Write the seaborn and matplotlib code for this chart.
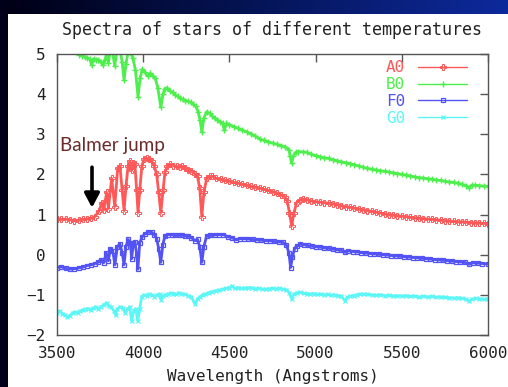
import numpy as np
import pandas as pd
import matplotlib
matplotlib.use("Agg")
import matplotlib.pyplot as plt
from matplotlib.colors import LinearSegmentedColormap
from matplotlib.patches import Rectangle
import seaborn as sns

# ---------------- data: relative flux (log, offset) vs wavelength in Angstroms -----------
wl_a0 = [3500, 3525, 3550, 3575, 3600, 3625, 3650, 3675, 3700, 3720, 3745, 3760, 3771,
         3788, 3798, 3817, 3835, 3852, 3865, 3878, 3889, 3900, 3912, 3923, 3933, 3943,
         3952, 3962, 3970, 3980, 3992, 4005, 4020, 4035, 4049, 4065, 4078, 4090, 4102,
         4115, 4126, 4140, 4155, 4175, 4195, 4215, 4225, 4240, 4260, 4280, 4300, 4315,
         4328, 4340, 4352, 4368, 4385, 4400, 4425, 4450, 4475, 4500, 4525, 4550, 4575,
         4600, 4625, 4650, 4675, 4700, 4725, 4750, 4775, 4800, 4820, 4835, 4848, 4861,
         4875, 4890, 4910, 4927, 4950, 4975, 5000, 5025, 5050, 5075, 5100, 5125, 5150,
         5175, 5200, 5225, 5250, 5275, 5300, 5325, 5350, 5375, 5400, 5425, 5450, 5475,
         5500, 5525, 5550, 5575, 5600, 5625, 5650, 5675, 5700, 5725, 5750, 5775, 5800,
         5825, 5850, 5875, 5900, 5925, 5950, 5975, 6000]
flux_a0 = [0.90, 0.88, 0.89, 0.87, 0.85, 0.86, 0.88, 0.89, 0.91, 0.95, 1.10, 1.30, 1.12,
           1.55, 1.15, 1.90, 1.20, 2.15, 2.22, 1.60, 1.10, 1.70, 2.20, 2.33, 2.10, 2.28,
           2.25, 1.60, 1.05, 1.60, 2.20, 2.38, 2.40, 2.38, 2.33, 2.20, 2.00, 1.55, 1.05,
           1.60, 2.05, 2.20, 2.25, 2.22, 2.20, 2.18, 2.20, 2.15, 2.12, 2.08, 2.02, 1.95,
           1.65, 0.95, 1.55, 1.90, 1.95, 1.95, 1.90, 1.88, 1.85, 1.83, 1.80, 1.78, 1.75,
           1.73, 1.70, 1.68, 1.66, 1.63, 1.60, 1.57, 1.53, 1.49, 1.45, 1.35, 1.05, 0.72,
           1.05, 1.30, 1.36, 1.38, 1.37, 1.34, 1.32, 1.31, 1.30, 1.28, 1.27, 1.25, 1.22,
           1.20, 1.18, 1.16, 1.14, 1.12, 1.10, 1.08, 1.06, 1.04, 1.02, 1.00, 0.99, 0.97,
           0.96, 0.95, 0.93, 0.92, 0.91, 0.90, 0.89, 0.88, 0.87, 0.86, 0.85, 0.84, 0.83,
           0.82, 0.82, 0.81, 0.80, 0.79, 0.79, 0.78, 0.77]

wl_b0 = [3500, 3525, 3550, 3575, 3600, 3615, 3630, 3645, 3660, 3675, 3690, 3701, 3712,
         3725, 3740, 3755, 3767, 3778, 3790, 3798, 3808, 3820, 3835, 3848, 3865, 3878,
         3889, 3900, 3912, 3925, 3940, 3955, 3970, 3982, 3995, 4010, 4026, 4040, 4055,
         4070, 4085, 4102, 4115, 4126, 4140, 4155, 4170, 4185, 4200, 4215, 4230, 4245,
         4260, 4275, 4290, 4305, 4320, 4330, 4340, 4352, 4368, 4385, 4400, 4415, 4430,
         4445, 4460, 4471, 4483, 4500, 4525, 4550, 4575, 4600, 4625, 4650, 4675, 4700,
         4725, 4750, 4775, 4800, 4825, 4845, 4853, 4861, 4870, 4885, 4900, 4925, 4950,
         4975, 5000, 5025, 5050, 5075, 5100, 5125, 5150, 5175, 5200, 5225, 5250, 5275,
         5300, 5325, 5350, 5375, 5400, 5425, 5450, 5475, 5500, 5525, 5550, 5575, 5600,
         5625, 5650, 5675, 5700, 5725, 5750, 5775, 5800, 5825, 5850, 5875, 5890, 5905,
         5925, 5950, 5975, 6000]
flux_b0 = [5.45, 5.40, 5.35, 5.28, 5.18, 5.10, 4.98, 4.95, 4.93, 4.90, 4.88, 4.72, 4.88,
           4.85, 4.86, 4.80, 4.72, 4.85, 5.05, 4.78, 5.05, 5.10, 4.70, 5.10, 5.12, 4.80,
           4.35, 4.75, 5.05, 5.05, 4.90, 4.60, 3.93, 4.40, 4.62, 4.55, 4.45, 4.52, 4.45,
           4.40, 4.15, 3.68, 4.00, 4.14, 4.15, 4.08, 4.05, 3.98, 3.95, 3.90, 3.87, 3.84,
           3.82, 3.80, 3.75, 3.70, 3.55, 3.35, 3.06, 3.40, 3.56, 3.52, 3.45, 3.40, 3.36,
           3.31, 3.28, 3.10, 3.27, 3.24, 3.19, 3.15, 3.10, 3.06, 3.01, 2.96, 2.88, 2.85,
           2.81, 2.78, 2.75, 2.72, 2.68, 2.62, 2.45, 2.28, 2.45, 2.55, 2.57, 2.56, 2.55,
           2.50, 2.47, 2.44, 2.41, 2.40, 2.37, 2.34, 2.31, 2.29, 2.27, 2.24, 2.21, 2.18,
           2.15, 2.13, 2.11, 2.09, 2.08, 2.06, 2.04, 2.02, 2.00, 1.98, 1.96, 1.94, 1.92,
           1.91, 1.89, 1.88, 1.86, 1.85, 1.83, 1.81, 1.80, 1.78, 1.75, 1.72, 1.66, 1.73,
           1.73, 1.72, 1.71, 1.70]

wl_f0 = [3500, 3525, 3550, 3575, 3600, 3625, 3650, 3675, 3700, 3720, 3738, 3755, 3771,
         3785, 3798, 3810, 3823, 3836, 3850, 3865, 3878, 3889, 3900, 3912, 3925, 3933,
         3943, 3952, 3962, 3969, 3980, 3995, 4010, 4030, 4049, 4065, 4078, 4090, 4102,
         4114, 4126, 4145, 4165, 4185, 4205, 4225, 4245, 4262, 4280, 4300, 4315, 4328,
         4340, 4352, 4368, 4390, 4415, 4440, 4465, 4490, 4515, 4540, 4560, 4585, 4610,
         4635, 4660, 4685, 4710, 4735, 4760, 4785, 4810, 4830, 4845, 4855, 4866, 4878,
         4890, 4910, 4930, 4955, 4980, 5000, 5025, 5050, 5075, 5100, 5125, 5150, 5170,
         5190, 5215, 5240, 5265, 5290, 5315, 5340, 5365, 5390, 5415, 5440, 5465, 5490,
         5515, 5540, 5565, 5590, 5615, 5640, 5665, 5690, 5715, 5740, 5765, 5790, 5815,
         5840, 5865, 5890, 5915, 5940, 5965, 6000]
flux_f0 = [-0.32, -0.30, -0.34, -0.36, -0.35, -0.33, -0.31, -0.27, -0.25, -0.22, -0.19,
           -0.12, -0.20, 0.05, -0.15, 0.15, 0.10, -0.25, 0.20, 0.27, 0.05, -0.25, 0.20,
           0.38, 0.30, -0.10, 0.30, 0.32, 0.00, -0.36, 0.30, 0.45, 0.52, 0.56, 0.56,
           0.50, 0.40, 0.15, -0.19, 0.25, 0.47, 0.50, 0.50, 0.48, 0.48, 0.49, 0.47, 0.47,
           0.42, 0.35, 0.38, 0.20, -0.19, 0.20, 0.47, 0.48, 0.49, 0.50, 0.50, 0.45, 0.42,
           0.37, 0.40, 0.40, 0.39, 0.38, 0.37, 0.36, 0.35, 0.35, 0.33, 0.32, 0.31, 0.25,
           0.05, -0.32, -0.05, 0.15, 0.22, 0.26, 0.25, 0.23, 0.21, 0.20, 0.19, 0.17, 0.16,
           0.14, 0.12, 0.11, 0.06, 0.10, 0.08, 0.07, 0.05, 0.04, 0.03, 0.02, 0.01, 0.00,
           -0.01, -0.02, -0.03, -0.04, -0.05, -0.06, -0.07, -0.08, -0.09, -0.10, -0.11,
           -0.12, -0.13, -0.14, -0.15, -0.16, -0.17, -0.18, -0.19, -0.24, -0.20, -0.21,
           -0.22, -0.23]

wl_g0 = [3500, 3515, 3530, 3545, 3560, 3575, 3590, 3605, 3620, 3635, 3650, 3665, 3680,
         3695, 3710, 3725, 3740, 3755, 3770, 3788, 3800, 3815, 3830, 3840, 3850, 3865,
         3880, 3895, 3910, 3922, 3933, 3945, 3958, 3968, 3980, 3991, 4005, 4020, 4035,
         4050, 4065, 4080, 4095, 4102, 4115, 4130, 4145, 4160, 4175, 4190, 4205, 4220,
         4240, 4260, 4280, 4300, 4315, 4330, 4345, 4360, 4380, 4400, 4420, 4440, 4460,
         4480, 4500, 4515, 4530, 4550, 4570, 4590, 4610, 4630, 4650, 4670, 4690, 4710,
         4730, 4750, 4770, 4790, 4810, 4830, 4848, 4861, 4875, 4890, 4910, 4930, 4950,
         4970, 4990, 5010, 5030, 5050, 5070, 5090, 5110, 5130, 5150, 5170, 5185, 5200,
         5220, 5240, 5260, 5280, 5300, 5325, 5350, 5375, 5400, 5425, 5450, 5475, 5500,
         5525, 5550, 5575, 5600, 5625, 5650, 5675, 5700, 5725, 5750, 5775, 5800, 5825,
         5850, 5870, 5890, 5910, 5930, 5950, 5975, 6000]
flux_g0 = [-1.44, -1.40, -1.47, -1.50, -1.55, -1.52, -1.45, -1.43, -1.45, -1.40, -1.38,
           -1.36, -1.34, -1.38, -1.33, -1.30, -1.36, -1.30, -1.25, -1.20, -1.28, -1.30,
           -1.40, -1.50, -1.35, -1.30, -1.32, -1.45, -1.35, -1.30, -1.65, -1.40, -1.35,
           -1.65, -1.35, -1.05, -1.00, -1.02, -0.98, -1.00, -1.05, -1.00, -0.98, -1.12,
           -1.02, -1.00, -0.98, -0.96, -0.97, -0.99, -0.95, -0.97, -0.99, -1.02, -1.05,
           -1.23, -1.10, -1.05, -1.00, -0.98, -0.95, -0.92, -0.90, -0.88, -0.86, -0.84,
           -0.82, -0.78, -0.84, -0.82, -0.84, -0.83, -0.82, -0.82, -0.85, -0.84, -0.86,
           -0.86, -0.85, -0.84, -0.85, -0.84, -0.86, -0.87, -0.95, -1.10, -0.98, -0.95,
           -0.94, -0.96, -0.97, -0.98, -0.97, -0.99, -0.98, -1.00, -0.99, -1.01, -1.00,
           -1.02, -1.03, -1.15, -1.06, -1.03, -1.02, -1.00, -0.98, -0.99, -0.98, -1.00,
           -1.01, -1.00, -1.02, -1.01, -1.03, -1.02, -1.03, -1.02, -1.04, -1.03, -1.05,
           -1.04, -1.05, -1.04, -1.06, -1.05, -1.06, -1.07, -1.08, -1.07, -1.09, -1.10,
           -1.16, -1.10, -1.09, -1.10, -1.11, -1.10]

series_names = ["A0", "B0", "F0", "G0"]
series_colors = ["#ff5858", "#4cef4c", "#5252f5", "#5cf6f6"]
x_ticks = [3500, 4000, 4500, 5000, 5500, 6000]
y_ticks = [-2, -1, 0, 1, 2, 3, 4, 5]

# ---------------- figure ----------------
sns.set_style("white")
plt.rcParams["font.family"] = ["DejaVu Sans Mono"]

W, H = 508, 387
fig = plt.figure(figsize=(W / 100, H / 100), dpi=100, facecolor="white")

# dark slide frame: left strip and gradient band on top
fig.patches.append(Rectangle((0, 0), 8 / W, 1, transform=fig.transFigure,
                             facecolor="#00001a", edgecolor="none", zorder=0))
band = fig.add_axes([0, 1 - 14 / H, 1, 14 / H])
cmap = LinearSegmentedColormap.from_list("band", ["#000014", "#051456", "#0d2a9c"])
band.imshow(np.linspace(0, 1, 256)[None, :], aspect="auto", cmap=cmap,
            extent=[0, 1, 0, 1])
band.set_axis_off()

ax = fig.add_axes([57 / W, 1 - 335 / H, 431 / W, 281 / H])
ax.set_facecolor("white")

spectra = [(wl_a0, flux_a0), (wl_b0, flux_b0), (wl_f0, flux_f0), (wl_g0, flux_g0)]
marker_styles = [
    dict(marker="P", markersize=4.0, markerfacecolor="none", markeredgewidth=0.7),
    dict(marker="+", markersize=5.0, markeredgewidth=1.0),
    dict(marker="s", markersize=3.4, markerfacecolor="none", markeredgewidth=0.9),
    dict(marker="x", markersize=3.4, markeredgewidth=0.9),
]
for (wl, fl), name, col, mk in zip(spectra, series_names, series_colors, marker_styles):
    df = pd.DataFrame({"wavelength": wl, "flux": fl})
    sns.lineplot(data=df, x="wavelength", y="flux", ax=ax, color=col,
                 linewidth=2.0, label=name, markeredgecolor=col, **mk)

ax.set_xlim(3500, 6000)
ax.set_ylim(-2, 5)
ax.set_xticks(x_ticks)
ax.set_yticks(y_ticks)
ax.set_xticklabels([str(v) for v in x_ticks])
ax.set_yticklabels([str(v).replace("-", "\u2212") if v < 0 else str(v) for v in y_ticks])

text_col = "#222222"
ax.tick_params(direction="in", length=5.5, width=1.0, color="#555555",
               top=True, right=True, labelsize=11.5, labelcolor=text_col, pad=8)
for s in ax.spines.values():
    s.set_color("#555555")
    s.set_linewidth(1.0)

ax.set_xlabel("Wavelength (Angstroms)", fontsize=11.5, color=text_col, labelpad=6)
ax.set_ylabel("")
ax.set_title("Spectra of stars of different temperatures", fontsize=12,
             color=text_col, pad=14)

leg = ax.legend(loc="upper right", bbox_to_anchor=(0.951, 0.978), frameon=False,
                markerfirst=False, numpoints=1, fontsize=11.5, labelcolor="linecolor",
                handlelength=3.05, handletextpad=0.8, borderpad=0, borderaxespad=0,
                labelspacing=0.12)
for h in leg.legend_handles:
    h.set_linewidth(1.0)

# annotation of the Balmer discontinuity
ax.text(3517, 2.72, "Balmer jump", family=["Lato", "DejaVu Sans"], fontsize=13.6,
        color="#6b2b2b", ha="left", va="center")
ax.annotate("", xy=(3703, 1.17), xytext=(3703, 2.18),
            arrowprops=dict(arrowstyle="-|>,head_length=0.85,head_width=0.45",
                            mutation_scale=10, lw=2.6, color="black",
                            shrinkA=0, shrinkB=0))

fig.savefig("out.png", dpi=100, facecolor=fig.get_facecolor())
